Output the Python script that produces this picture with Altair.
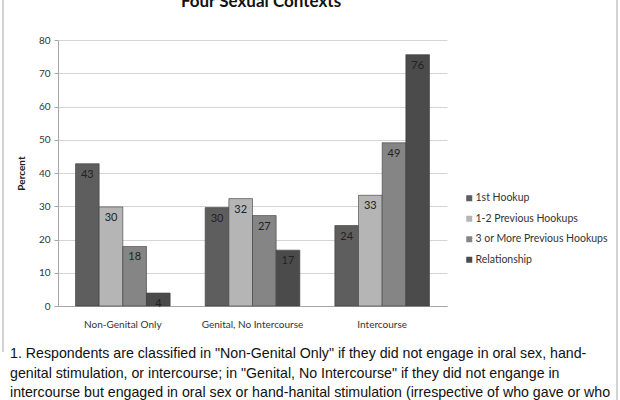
import altair as alt
import pandas as pd

contexts = ["Non-Genital Only", "Genital, No Intercourse", "Intercourse"]
series = ["1st Hookup", "1-2 Previous Hookups", "3 or More Previous Hookups", "Relationship"]
colors = ["#5e5e5e", "#b5b5b5", "#858585", "#4b4b4b"]
values = {
    "1st Hookup": [42.8, 29.6, 24.2],
    "1-2 Previous Hookups": [29.8, 32.3, 33.3],
    "3 or More Previous Hookups": [17.9, 27.2, 49.1],
    "Relationship": [3.9, 16.8, 75.6],
}
title_text = "Four Sexual Contexts"
footnote = [
    '1. Respondents are classified in "Non-Genital Only" if they did not engage in oral sex, hand-',
    'genital stimulation, or intercourse; in "Genital, No Intercourse" if they did not engange in',
    'intercourse but engaged in oral sex or hand-hanital stimulation (irrespective of who gave or who',
]

rows = []
for s in series:
    for c, v in zip(contexts, values[s]):
        rows.append({"Context": c, "Series": s, "Percent": v})
df = pd.DataFrame(rows)

FONT = "Lato"
W, H = 389, 266
L, T = 58, 40

x = alt.X("Context:N", sort=contexts, title=None,
          scale=alt.Scale(paddingInner=0.27, paddingOuter=0.135),
          axis=alt.Axis(labelAngle=0, labelFontSize=10, labelFont=FONT, labelColor="#333333",
                        labelPadding=13, ticks=False, domainColor="#a6a6a6", grid=False))
xo = alt.XOffset("Series:N", sort=series, scale=alt.Scale(paddingInner=0, paddingOuter=0))
y = alt.Y("Percent:Q", title="Percent",
          scale=alt.Scale(domain=[0, 80]),
          axis=alt.Axis(values=list(range(0, 81, 10)), labelFontSize=10, labelFont=FONT,
                        labelColor="#333333", tickSize=4, labelPadding=4, tickColor="#a6a6a6",
                        domainColor="#a6a6a6", gridColor="#d4d4d4", titleFont=FONT,
                        titleFontSize=10, titleFontWeight="bold", titleColor="#222222",
                        titlePadding=12))
color = alt.Color("Series:N", sort=series, title=None,
                  scale=alt.Scale(domain=series, range=colors),
                  legend=alt.Legend(orient="none", legendX=406, legendY=153,
                                    symbolType="square", symbolSize=36, symbolStrokeWidth=0,
                                    labelFont=FONT, labelFontSize=10.5, labelColor="#333333",
                                    rowPadding=9.5, symbolOffset=0, labelOffset=1))

base = alt.Chart(df)
bars = base.mark_bar(stroke="#3a3a3a", strokeWidth=0.6).encode(x=x, xOffset=xo, y=y, color=color)
labels = base.mark_text(baseline="top", dy=5, font=FONT, fontSize=11, color="#222222").encode(
    x=x, xOffset=xo, y=y, text=alt.Text("Percent:Q", format=".0f"))

one = pd.DataFrame({"k": [0]})
title = alt.Chart(one).mark_text(text=title_text, font=FONT, fontSize=17, fontWeight="bold",
                                 color="#111111", align="center", baseline="alphabetic").encode(
    x=alt.value(261 - L), y=alt.value(7 - T))

layers = [bars, labels, title]
for i, line in enumerate(footnote):
    layers.append(alt.Chart(one).mark_text(text=line, font="Liberation Sans", fontSize=14.2,
                                           color="#111111", align="left", baseline="middle").encode(
        x=alt.value(10 - L), y=alt.value(354 + i * 19.5 - T)))

left_border = alt.Chart(one).mark_rule(color="#c4c4c4", strokeWidth=1.5).encode(
    x=alt.value(3 - L), y=alt.value(-T), y2=alt.value(352 - T))
right_border = alt.Chart(one).mark_rule(color="#c4c4c4", strokeWidth=1.5).encode(
    x=alt.value(617 - L), y=alt.value(-T), y2=alt.value(400 - T))
layers += [left_border, right_border]

chart = alt.layer(*layers).properties(
    width=W, height=H,
    autosize=alt.AutoSizeParams(type="none"),
    padding={"left": L, "top": T, "right": 620 - L - W, "bottom": 400 - T - H},
    background="white",
).configure_view(stroke=None)

chart.save("out.html", embed_options={"renderer": "svg", "actions": False})
